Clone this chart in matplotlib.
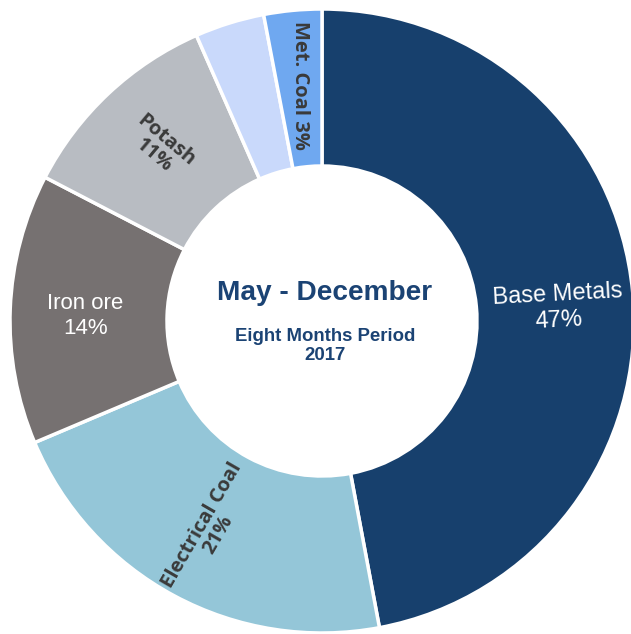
import numpy as np
import matplotlib.pyplot as plt

segments = ['Base Metals', 'Electrical Coal', 'Iron ore', 'Potash', 'Other', 'Met. Coal']
shares = [47.1, 21.6, 14.0, 10.8, 3.6, 3.0]
labels = ['Base Metals\n47%', 'Electrical Coal\n21%', 'Iron ore\n14%', 'Potash\n11%', '', 'Met. Coal 3%']
colors = ['#17406d', '#94c6d8', '#767171', '#b8bcc2', '#c9d9fb', '#6fa8f0']

W, H = 631, 634
fig = plt.figure(figsize=(W / 100, H / 100), dpi=100)
ax = fig.add_axes([0, 0, 1, 1])

cx, cy = 322, H - 321
r_out, r_in = 312, 155

wedges, _ = ax.pie(shares, colors=colors, startangle=90, counterclock=False,
                   center=(cx, cy), radius=r_out,
                   wedgeprops=dict(width=r_out - r_in, edgecolor='white', linewidth=2.5))

# pie() sets its own limits, so put the pixel frame back afterwards
ax.set_xlim(0, W)
ax.set_ylim(0, H)
ax.set_aspect('equal')
ax.axis('off')

# label style per segment: (text colour, bold, rotation, size, shift down)
styles = [('white', False, 3, 17, 9),
          ('#3a3a3a', True, 60, 14.5, 0),
          ('white', False, 0, 16, 4),
          ('#3a3a3a', True, -40, 14.5, 0),
          (None, False, 0, 0, 0),
          ('#3a3a3a', True, -90, 14.5, 0)]

r_lab = 237
for w, lab, (col, bold, rot, size, dy) in zip(wedges, labels, styles):
    if not lab:
        continue
    mid = np.deg2rad((w.theta1 + w.theta2) / 2)
    x = cx + r_lab * np.cos(mid)
    y = cy + r_lab * np.sin(mid) - dy
    if bold:
        ax.text(x, y, lab, color=col, fontsize=size, fontweight='bold', family='Open Sans',
                rotation=rot, ha='center', va='center', linespacing=0.95,
                rotation_mode='anchor')
    else:
        ax.text(x, y, lab, color=col, fontsize=size, family='Liberation Sans',
                rotation=rot, ha='center', va='center', linespacing=1.25,
                rotation_mode='anchor')

navy = '#1b4374'
ax.text(cx + 3, cy + 28, 'May - December', color=navy, fontsize=20.2, fontweight='bold',
        family='Liberation Sans', ha='center', va='center')
ax.text(cx + 3, cy - 25, 'Eight Months Period\n2017', color=navy, fontsize=13.4,
        fontweight='bold', family='Liberation Sans', ha='center', va='center',
        linespacing=1.2)

fig.savefig('out.png', dpi=100)
